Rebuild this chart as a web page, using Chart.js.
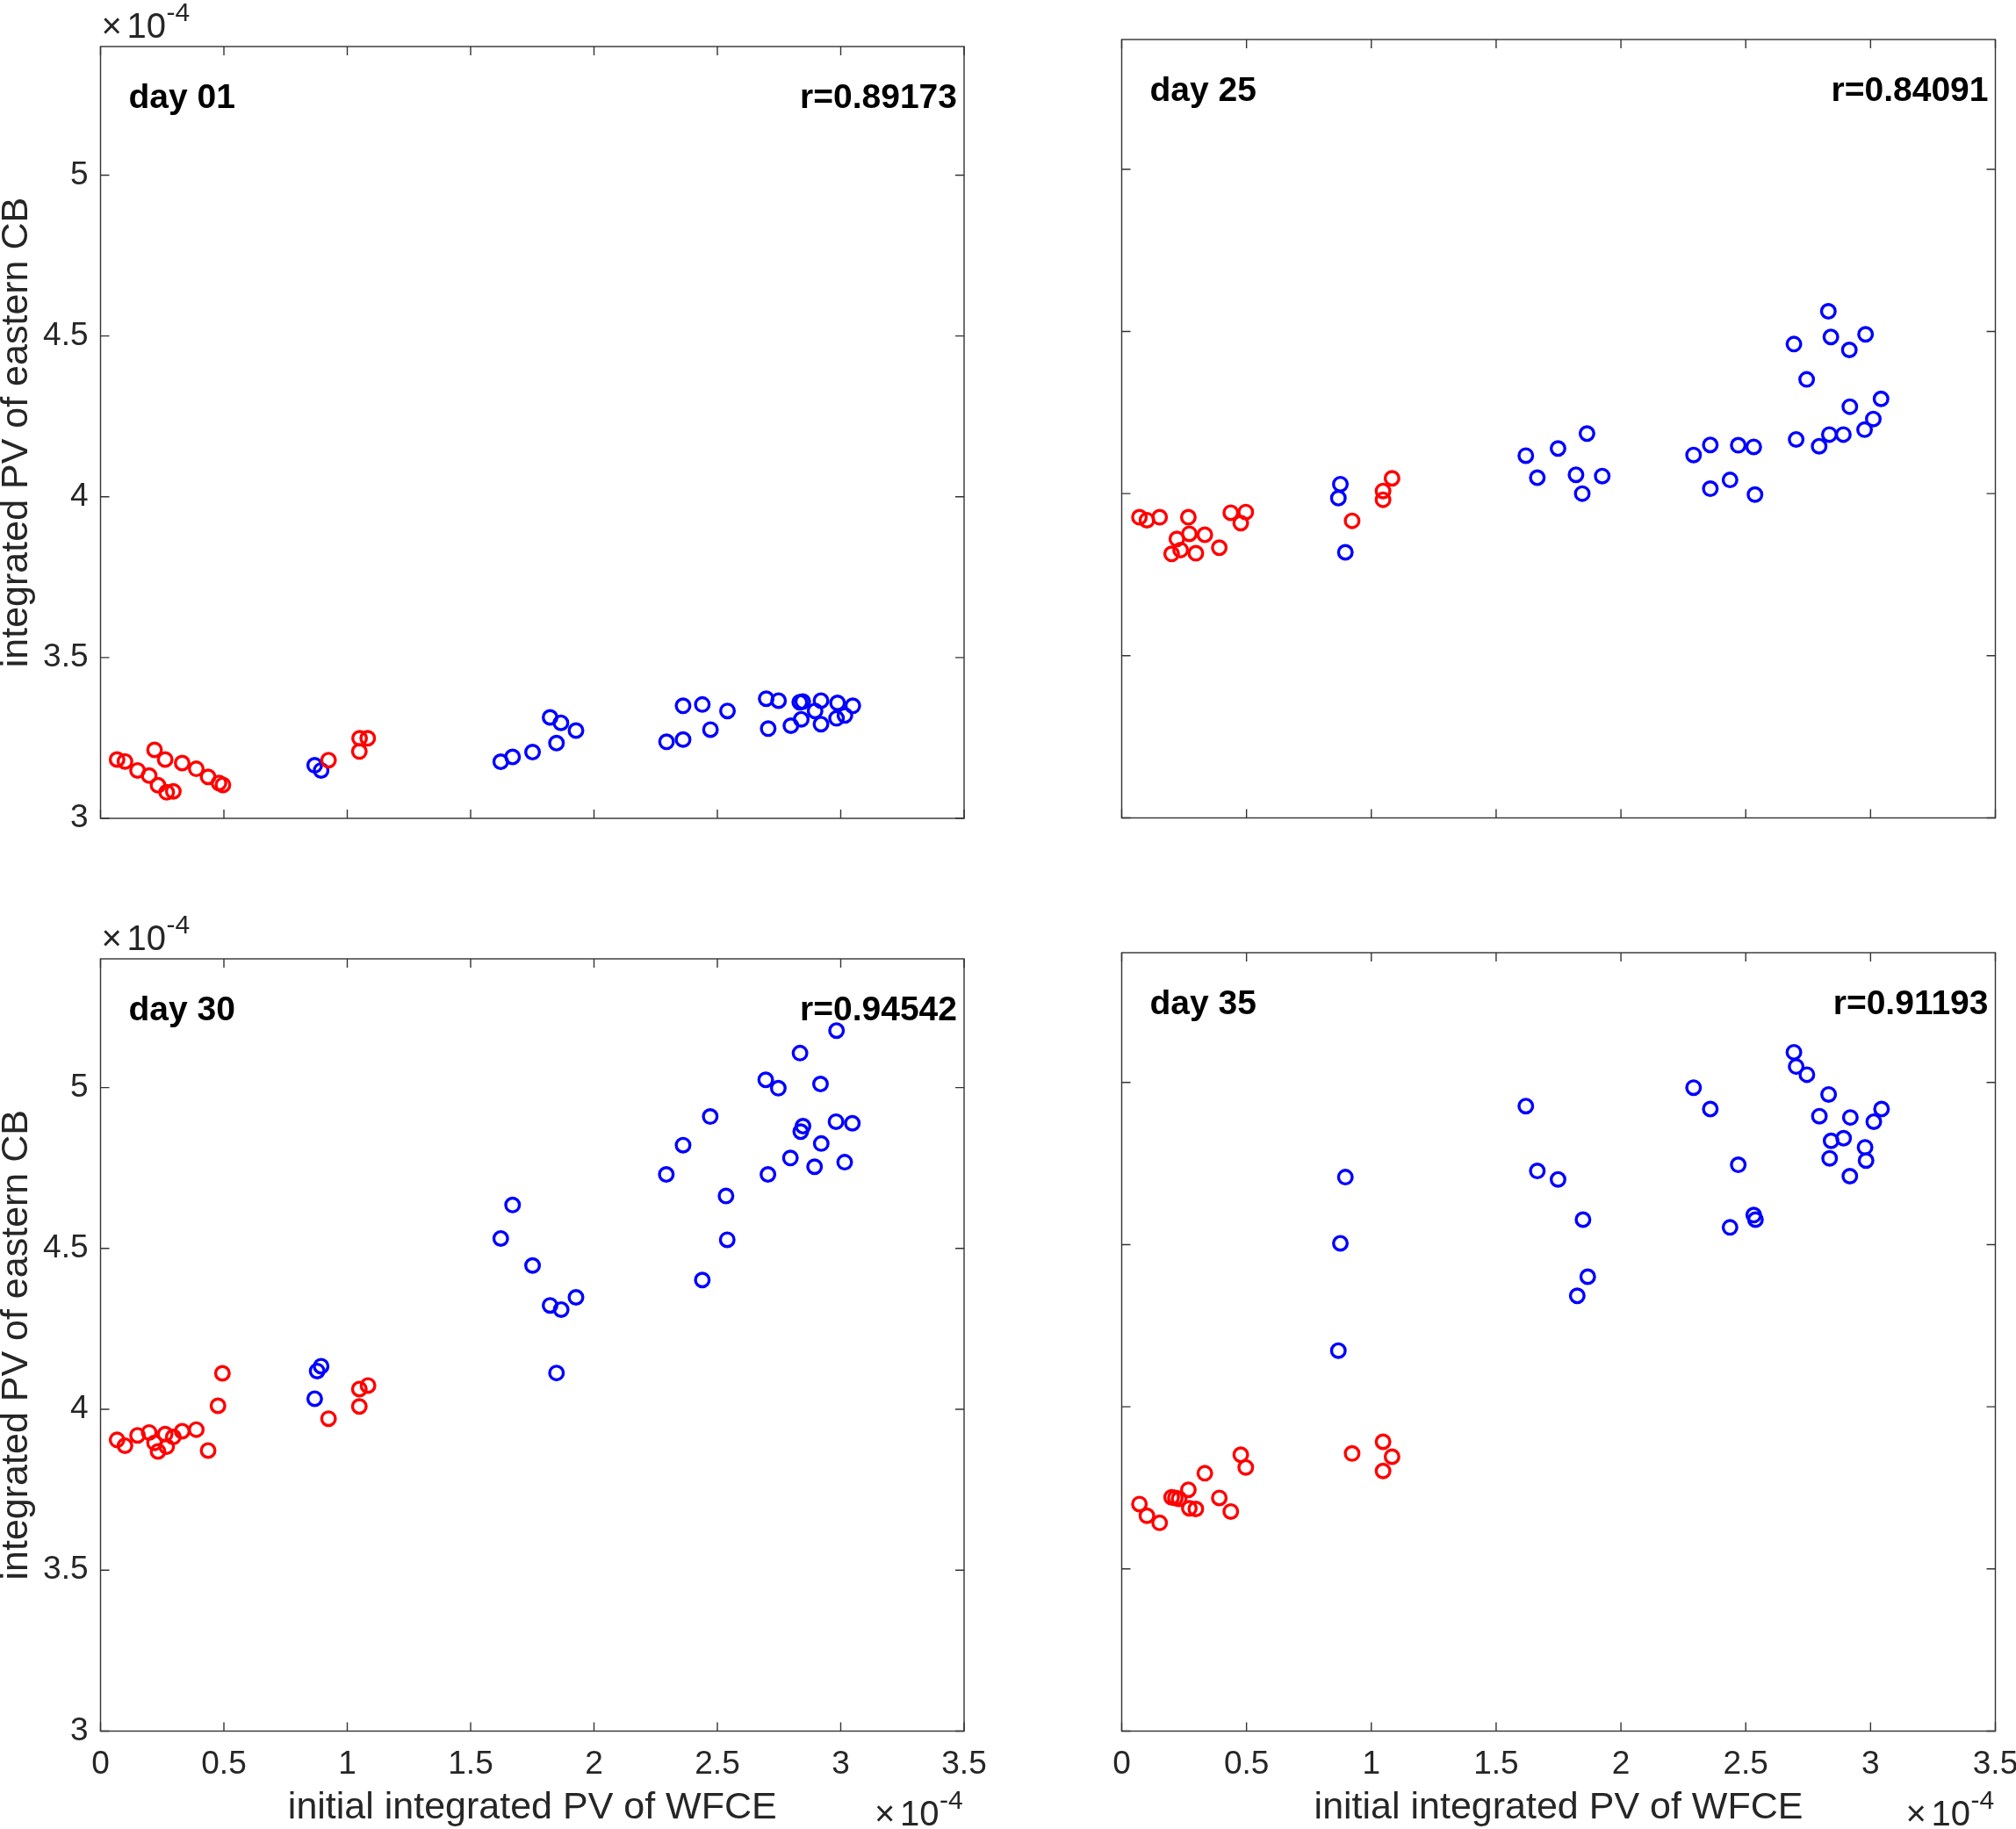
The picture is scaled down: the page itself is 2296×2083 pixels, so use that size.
<!DOCTYPE html>
<html>
<head>
<meta charset="utf-8">
<title>integrated PV scatter</title>
<script src="https://cdn.jsdelivr.net/npm/chart.js@4.4.0/dist/chart.umd.min.js"></script>
<style>
  html, body { margin: 0; padding: 0; background: #fff; }
  #wrap { position: relative; width: 2296px; height: 2083px; }
  #wrap canvas { position: absolute; left: 0; top: 0; }
</style>
</head>
<body>
<div id="wrap">
  <canvas id="day01" width="2296" height="2083"></canvas>
  <canvas id="day25" width="2296" height="2083"></canvas>
  <canvas id="day30" width="2296" height="2083"></canvas>
  <canvas id="day35" width="2296" height="2083"></canvas>
</div>
<script>
const xTickValues = [0, 0.5, 1, 1.5, 2, 2.5, 3, 3.5];
const xTickLabels = ['0', '0.5', '1', '1.5', '2', '2.5', '3', '3.5'];
const yTickValues = [3, 3.5, 4, 4.5, 5];
const yTickLabels = ['3', '3.5', '4', '4.5', '5'];

// [x, y] pairs, both in units of 1e-4
const day01Red = [[0.067,3.183],[0.099,3.177],[0.150,3.149],[0.197,3.133],[0.219,3.213],[0.233,3.103],[0.262,3.183],[0.268,3.081],[0.295,3.084],[0.331,3.172],[0.388,3.154],[0.436,3.129],[0.480,3.110],[0.496,3.104],[0.924,3.181],[1.049,3.208],[1.050,3.249],[1.083,3.249]];
const day01Blue = [[0.868,3.165],[0.894,3.149],[1.622,3.176],[1.670,3.191],[1.751,3.206],[1.822,3.314],[1.848,3.234],[1.866,3.297],[1.927,3.273],[2.294,3.238],[2.361,3.245],[2.361,3.350],[2.439,3.354],[2.472,3.276],[2.541,3.334],[2.698,3.372],[2.706,3.279],[2.748,3.366],[2.798,3.288],[2.834,3.361],[2.840,3.308],[2.846,3.363],[2.896,3.334],[2.920,3.366],[2.920,3.293],[2.983,3.311],[2.987,3.359],[3.017,3.320],[3.049,3.350]];

const day25Red = [[0.071,3.927],[0.101,3.918],[0.152,3.927],[0.200,3.814],[0.221,3.860],[0.236,3.826],[0.267,3.927],[0.271,3.876],[0.297,3.816],[0.333,3.873],[0.391,3.833],[0.437,3.941],[0.477,3.909],[0.497,3.943],[0.923,3.916],[1.047,3.981],[1.047,4.008],[1.083,4.047]];
const day25Blue = [[0.868,3.986],[0.876,4.029],[0.896,3.819],[1.619,4.117],[1.665,4.049],[1.748,4.139],[1.820,4.058],[1.845,4.000],[1.864,4.185],[1.925,4.054],[2.291,4.119],[2.358,4.150],[2.358,4.015],[2.437,4.042],[2.470,4.149],[2.532,4.144],[2.537,3.997],[2.693,4.461],[2.831,4.562],[2.841,4.483],[2.915,4.443],[2.980,4.491],[2.744,4.352],[2.917,4.268],[3.042,4.292],[3.011,4.230],[2.976,4.197],[2.702,4.167],[2.794,4.146],[2.835,4.182],[2.891,4.182]];

const day30Red = [[0.067,3.905],[0.099,3.887],[0.150,3.919],[0.197,3.928],[0.219,3.896],[0.233,3.869],[0.262,3.923],[0.268,3.884],[0.295,3.914],[0.331,3.932],[0.388,3.937],[0.436,3.872],[0.476,4.011],[0.494,4.112],[0.924,3.971],[1.049,4.009],[1.049,4.063],[1.084,4.074]];
const day30Blue = [[0.868,4.033],[0.878,4.119],[0.894,4.134],[1.622,4.531],[1.670,4.635],[1.751,4.447],[1.822,4.323],[1.848,4.113],[1.867,4.310],[1.927,4.348],[2.293,4.730],[2.361,4.821],[2.439,4.402],[2.471,4.910],[2.535,4.663],[2.540,4.527],[2.983,5.177],[2.835,5.107],[2.696,5.024],[2.747,4.998],[2.918,5.011],[2.981,4.894],[3.047,4.889],[2.847,4.880],[2.838,4.863],[2.921,4.826],[2.796,4.781],[2.894,4.754],[3.016,4.768],[2.705,4.730]];

const day35Red = [[0.071,3.700],[0.101,3.664],[0.152,3.642],[0.200,3.721],[0.215,3.719],[0.230,3.716],[0.267,3.744],[0.271,3.687],[0.297,3.685],[0.333,3.795],[0.391,3.719],[0.437,3.677],[0.477,3.852],[0.497,3.813],[0.923,3.856],[1.047,3.802],[1.047,3.892],[1.083,3.846]];
const day35Blue = [[0.868,4.173],[0.876,4.504],[0.896,4.708],[1.619,4.927],[1.665,4.727],[1.748,4.701],[1.825,4.342],[1.848,4.577],[1.867,4.401],[2.291,4.984],[2.358,4.918],[2.437,4.553],[2.470,4.746],[2.532,4.591],[2.539,4.577],[2.693,5.093],[2.702,5.049],[2.745,5.024],[2.832,4.963],[2.795,4.896],[2.919,4.892],[3.044,4.918],[3.013,4.879],[2.842,4.820],[2.892,4.828],[2.978,4.800],[2.836,4.766],[2.982,4.759],[2.917,4.711]];

const FONT = "'Liberation Sans', Arial, Helvetica, sans-serif";
const AXIS_COLOR = '#262626';

const panels = [
  { id: 'day01', day: 'day 01', r: 'r=0.89173', red: day01Red, blue: day01Blue,
    pad: { left: 2, top: 53, right: 1198, bottom: 1151 }, yW: 112.5, xH: 0,
    yLabels: true, xLabels: false },
  { id: 'day25', day: 'day 25', r: 'r=0.84091', red: day25Red, blue: day25Blue,
    pad: { left: 1277.5, top: 45, right: 23.5, bottom: 1151.5 }, yW: 0, xH: 0,
    yLabels: false, xLabels: false },
  { id: 'day30', day: 'day 30', r: 'r=0.94542', red: day30Red, blue: day30Blue,
    pad: { left: 2, top: 1092, right: 1198, bottom: 0 }, yW: 112.5, xH: 111.5,
    yLabels: true, xLabels: true },
  { id: 'day35', day: 'day 35', r: 'r=0.91193', red: day35Red, blue: day35Blue,
    pad: { left: 1277.5, top: 1085, right: 23.5, bottom: 0 }, yW: 0, xH: 111.5,
    yLabels: false, xLabels: true }
];

// "x10" with a raised "-4", the way MATLAB prints the axis multiplier
function drawMultiplier(ctx, left, baseline) {
  ctx.font = '40px ' + FONT;
  ctx.fillText('\u00d7', left, baseline);
  ctx.fillText('10', left + 29, baseline);
  ctx.font = '30px ' + FONT;
  ctx.fillText('-4', left + 74, baseline - 19);
}

// MATLAB-like box with inward ticks, panel labels and the multipliers
const framePlugin = {
  id: 'frame',
  afterDraw(chart, args, opts) {
    const { ctx, chartArea: a, scales: { x, y } } = chart;
    ctx.save();
    ctx.strokeStyle = '#333';
    ctx.lineWidth = 1.4;
    ctx.strokeRect(a.left, a.top, a.right - a.left, a.bottom - a.top);
    const len = 10;
    ctx.beginPath();
    x.ticks.forEach(t => {
      const px = x.getPixelForValue(t.value);
      ctx.moveTo(px, a.bottom); ctx.lineTo(px, a.bottom - len);
      ctx.moveTo(px, a.top); ctx.lineTo(px, a.top + len);
    });
    y.ticks.forEach(t => {
      const py = y.getPixelForValue(t.value);
      ctx.moveTo(a.left, py); ctx.lineTo(a.left + len, py);
      ctx.moveTo(a.right, py); ctx.lineTo(a.right - len, py);
    });
    ctx.stroke();

    ctx.fillStyle = '#000';
    ctx.font = 'bold 39px ' + FONT;
    ctx.textBaseline = 'alphabetic';
    ctx.textAlign = 'left';
    ctx.fillText(opts.day, a.left + 32, a.top + 70);
    ctx.textAlign = 'right';
    ctx.fillText(opts.r, a.right - 8, a.top + 70);

    ctx.fillStyle = AXIS_COLOR;
    ctx.textAlign = 'left';
    if (opts.yExp) drawMultiplier(ctx, a.left + 1, a.top - 10);
    if (opts.xExp) drawMultiplier(ctx, a.right - 102, a.bottom + 107.5);
    ctx.restore();
  }
};

function toPoints(pairs) {
  return pairs.map(([x, y]) => ({ x, y }));
}

function circleSet(pairs, color) {
  return {
    data: toPoints(pairs),
    pointStyle: 'circle',
    pointRadius: 7.8,
    pointBorderWidth: 3.4,
    borderColor: color,
    pointBorderColor: color,
    backgroundColor: 'rgba(0,0,0,0)',
    pointBackgroundColor: 'rgba(0,0,0,0)',
    showLine: false
  };
}

panels.forEach(p => {
  new Chart(document.getElementById(p.id), {
    type: 'scatter',
    data: {
      datasets: [circleSet(p.red, '#ff0000'), circleSet(p.blue, '#0000ff')]
    },
    options: {
      responsive: false,
      animation: false,
      events: [],
      layout: { padding: p.pad },
      plugins: {
        legend: { display: false },
        tooltip: { enabled: false },
        frame: { day: p.day, r: p.r, yExp: p.yLabels, xExp: p.xLabels }
      },
      scales: {
        x: {
          type: 'linear',
          min: 0,
          max: 3.5,
          afterBuildTicks: s => { s.ticks = xTickValues.map(v => ({ value: v })); },
          afterFit: s => { s.height = p.xH; s.paddingLeft = 0; s.paddingRight = 0; },
          grid: { display: false, drawTicks: false },
          border: { display: false },
          ticks: {
            display: p.xLabels,
            autoSkip: false,
            maxRotation: 0,
            padding: 16.5,
            color: AXIS_COLOR,
            font: { family: FONT, size: 37, lineHeight: 1.2 },
            callback: (v, i) => xTickLabels[i]
          },
          title: {
            display: p.xLabels,
            text: 'initial integrated PV of WFCE',
            color: AXIS_COLOR,
            padding: { top: 0, bottom: 2 },
            font: { family: FONT, size: 43, lineHeight: 1 }
          }
        },
        y: {
          type: 'linear',
          min: 3,
          max: 5.4,
          afterBuildTicks: s => { s.ticks = yTickValues.map(v => ({ value: v })); },
          afterFit: s => { s.width = p.yW; s.paddingTop = 0; s.paddingBottom = 0; },
          grid: { display: false, drawTicks: false },
          border: { display: false },
          ticks: {
            display: p.yLabels,
            autoSkip: false,
            padding: 14,
            color: AXIS_COLOR,
            font: { family: FONT, size: 37, lineHeight: 1.2 },
            callback: (v, i) => yTickLabels[i]
          },
          title: {
            display: p.yLabels,
            text: 'integrated PV of eastern CB',
            color: AXIS_COLOR,
            padding: { top: 0, bottom: 0 },
            font: { family: FONT, size: 43, lineHeight: 0.8 }
          }
        }
      }
    },
    plugins: [framePlugin]
  });
});
</script>
</body>
</html>
